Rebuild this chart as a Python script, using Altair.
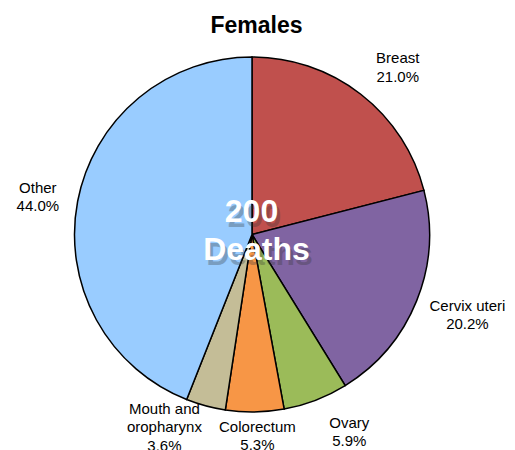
import altair as alt
import pandas as pd

categories = ["Breast", "Cervix uteri", "Ovary", "Colorectum", "Mouth and oropharynx", "Other"]
label_names = ["Breast", "Cervix uteri", "Ovary", "Colorectum", "Mouth and\noropharynx", "Other"]
shares = [21.0, 20.2, 5.9, 5.3, 3.6, 44.0]
colors = ["#C0504D", "#8064A2", "#9BBB59", "#F79646", "#C4BD97", "#99CCFF"]
title_text = "Females"
center_lines = ["200", "Deaths"]

df = pd.DataFrame({
    "cat": categories,
    "share": shares,
    "idx": list(range(len(categories))),
    "label": [f"{n}\n{v:.1f}%" for n, v in zip(label_names, shares)],
})

W, H = 499, 442
CX, CY = 244, 226.5
R = 177.5
LH = 18.5

pie = alt.Chart(df).mark_arc(outerRadius=R, stroke="black", strokeWidth=1.5).encode(
    theta=alt.Theta("share:Q", stack=True),
    order=alt.Order("idx:Q"),
    x=alt.value(CX), y=alt.value(CY),
    color=alt.Color("cat:N", scale=alt.Scale(domain=categories, range=colors), legend=None),
)

# label angle = middle of each slice, computed from the shares
lab_base = alt.Chart(df).transform_window(
    cum="sum(share)", sort=[alt.SortField("idx")], frame=[None, 0]
).transform_joinaggregate(total="sum(share)").transform_calculate(
    mid="(datum.cum - datum.share / 2) / datum.total * 2 * PI"
)

# per-label nudges (styling offsets to avoid overlap)
nudges = {
    "Breast": (14, 3), "Cervix uteri": (16, 0), "Ovary": (20, -3),
    "Colorectum": (2, -13.5), "Mouth and oropharynx": (-31.5, -15), "Other": (-3, 3),
}
label_layers = []
for c, lbl in zip(categories, df["label"]):
    dx, dy = nudges[c]
    nlines = lbl.count("\n") + 1
    dy = dy - (nlines - 1) * LH / 2
    label_layers.append(
        lab_base.transform_filter(alt.datum.cat == c).mark_text(
            radius=215, dx=dx, dy=dy, lineBreak="\n", fontSize=15, lineHeight=LH,
            font="Liberation Sans", color="black", align="center", baseline="middle",
        ).encode(
            theta=alt.Theta("mid:Q", scale=None),
            x=alt.value(CX), y=alt.value(CY), text="label:N",
        )
    )

cdf = pd.DataFrame({"t": center_lines})
def center_text(line, px, py, color, op, ox=0, oy=0):
    return alt.Chart(cdf).transform_filter(alt.datum.t == line).mark_text(
        font="Liberation Sans", fontSize=32, fontWeight="bold", color=color, opacity=op,
        align="center", baseline="middle", dx=ox, dy=oy,
    ).encode(x=alt.value(px), y=alt.value(py), text="t:N")

shadow = [
    center_text("200", 243.5, 204, "#333333", 0.3, 3, 5),
    center_text("Deaths", 248.5, 242, "#333333", 0.3, 3, 5),
]
fg = [
    center_text("200", 243.5, 204, "white", 1),
    center_text("Deaths", 248.5, 242, "white", 1),
]

tdf = pd.DataFrame({"t": [title_text]})
title = alt.Chart(tdf).mark_text(
    font="Liberation Sans", fontSize=23, fontWeight="bold", color="black",
    align="center", baseline="alphabetic",
).encode(x=alt.value(248.5), y=alt.value(24.5), text="t:N")

chart = alt.layer(pie, *label_layers, *shadow, *fg, title).properties(
    width=W, height=H, autosize=alt.AutoSizeParams(type="none"), padding=0,
).configure_view(stroke=None)

chart.save("out.html", embed_options={"renderer": "svg", "actions": False})
